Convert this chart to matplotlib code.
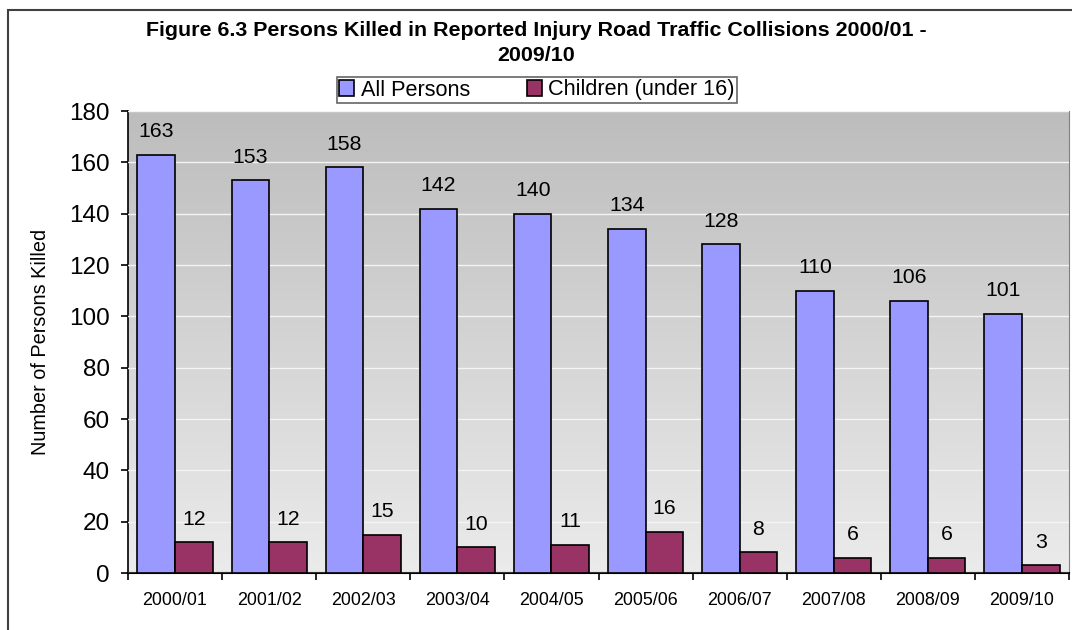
import numpy as np
import matplotlib.pyplot as plt
from matplotlib.patches import Rectangle

# chart data
years = ['2000/01', '2001/02', '2002/03', '2003/04', '2004/05',
         '2005/06', '2006/07', '2007/08', '2008/09', '2009/10']
all_persons = [163, 153, 158, 142, 140, 134, 128, 110, 106, 101]
children = [12, 12, 15, 10, 11, 16, 8, 6, 6, 3]

plt.rcParams['font.family'] = ['Liberation Sans', 'DejaVu Sans']

fig = plt.figure(figsize=(10.72, 6.30), dpi=100)
ax = fig.add_axes([128 / 1072, 57 / 630, 941 / 1072, 462 / 630])

# outer chart border
fig.patches.append(Rectangle((8 / 1072, -0.1), 1.2, 1.1 - 10 / 630,
                             transform=fig.transFigure, fill=False,
                             edgecolor='#404040', linewidth=1.5))

# gradient background for plot area
grad = np.linspace(0, 1, 256).reshape(-1, 1)
ax.imshow(grad, extent=[-0.5, 9.5, 0, 180], aspect='auto', origin='upper',
          cmap=plt.matplotlib.colors.LinearSegmentedColormap.from_list(
              'bg', ['#BDBDBD', '#EBEBEB']), zorder=0)

x = np.arange(len(years))
w = 0.4
b1 = ax.bar(x - w / 2, all_persons, w, color='#9999FF', edgecolor='black',
            linewidth=1.2, label='All Persons', zorder=3)
b2 = ax.bar(x + w / 2, children, w, color='#993366', edgecolor='black',
            linewidth=1.2, label='Children (under 16)', zorder=3)

for rect, v in zip(b1, all_persons):
    ax.text(rect.get_x() + rect.get_width() / 2, v + 9, str(v),
            ha='center', va='center', fontsize=15.3)
for rect, v in zip(b2, children):
    ax.text(rect.get_x() + rect.get_width() / 2, v + 9, str(v),
            ha='center', va='center', fontsize=15.3)

ax.set_xlim(-0.5, 9.5)
ax.set_ylim(0, 180)
ax.set_yticks(range(0, 181, 20))
ax.yaxis.grid(True, color='#F4F4F4', linewidth=1, zorder=1)
ax.set_axisbelow(False)
ax.tick_params(axis='y', labelsize=17.5, length=5, direction='out', width=1.2,
               pad=8)

ax.set_xticks(x)
ax.set_xticklabels(years, fontsize=12.9)
ax.set_xticks(np.arange(-0.5, 10, 1), minor=True)
ax.tick_params(axis='x', which='major', length=0, pad=14)
ax.tick_params(axis='x', which='minor', length=5, width=1.2)

ax.set_ylabel('Number of Persons Killed', fontsize=14.3, labelpad=14)

ax.spines['top'].set_visible(False)
ax.spines['right'].set_color('#808080')
ax.spines['left'].set_linewidth(1.2)
ax.spines['bottom'].set_linewidth(1.5)

fig.text(536 / 1072, 1 - 43 / 630,
         'Figure 6.3 Persons Killed in Reported Injury Road Traffic Collisions 2000/01 -\n2009/10',
         ha='center', va='center', fontsize=15.4, fontweight='bold',
         linespacing=1.35)

leg = fig.legend(handles=[b1, b2], loc='center', ncol=2,
                 bbox_to_anchor=(537 / 1072, 1 - 90 / 630), fontsize=15.6,
                 frameon=True, fancybox=False, edgecolor='#404040',
                 handlelength=0.7, handleheight=0.7, handletextpad=0.3,
                 columnspacing=2.6, borderpad=0.1, borderaxespad=0)
leg.get_frame().set_linewidth(1.2)

fig.savefig('out.png', dpi=100)
